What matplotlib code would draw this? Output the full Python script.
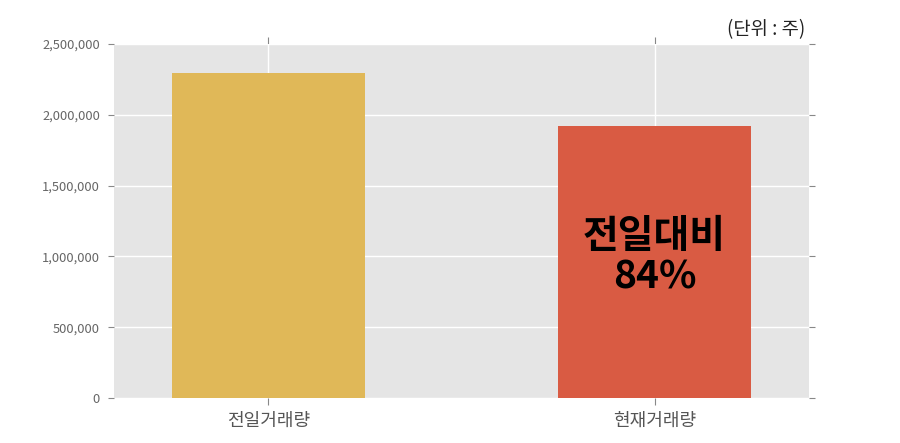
import matplotlib
matplotlib.use("Agg")
import matplotlib.pyplot as plt
from matplotlib.ticker import FuncFormatter

plt.rcParams['font.family'] = ['Noto Sans CJK KR', 'DejaVu Sans']

# data
categories = ['전일거래량', '현재거래량']
volumes = [2297000, 1923000]
bar_colors = ['#E0B858', '#D95B43']
ratio_label = '전일대비\n84%'
unit_label = '(단위 : 주)'

fig = plt.figure(figsize=(9, 4.43), dpi=100)
ax = fig.add_axes([114 / 900, 1 - 398 / 443, 695 / 900, 354 / 443])
ax.set_facecolor('#E5E5E5')

x = range(len(categories))
ax.bar(x, volumes, width=0.5, color=bar_colors, zorder=2)

ax.set_xlim(-0.4, 1.4)
ax.set_ylim(0, 2500000)
ax.set_xticks(list(x))
ax.set_xticklabels(categories, fontsize=13, color='#555555')
ax.set_yticks(range(0, 2500001, 500000))
ax.yaxis.set_major_formatter(FuncFormatter(lambda v, p: f'{int(v):,}'))

ax.grid(True, color='white', linewidth=1, zorder=1)
ax.set_axisbelow(True)
for s in ax.spines.values():
    s.set_visible(False)

ax.tick_params(axis='y', labelsize=9.3, labelcolor='#666666', color='#888888',
               length=4, direction='out', right=True, pad=6)
ax.tick_params(axis='x', color='#888888', length=5, direction='out', top=True, pad=5)

# ratio annotation inside the second bar
ax.annotate(ratio_label, xy=(1, volumes[1] / 2), xytext=(0, 4),
            textcoords='offset points', ha='center', va='center',
            fontsize=28, fontweight='bold', color='black', linespacing=1.05, zorder=3)

fig.text(805 / 900, 1 - 30 / 443, unit_label, ha='right', va='center',
         fontsize=13.5, color='#222222')

fig.savefig('out.png', dpi=100)
